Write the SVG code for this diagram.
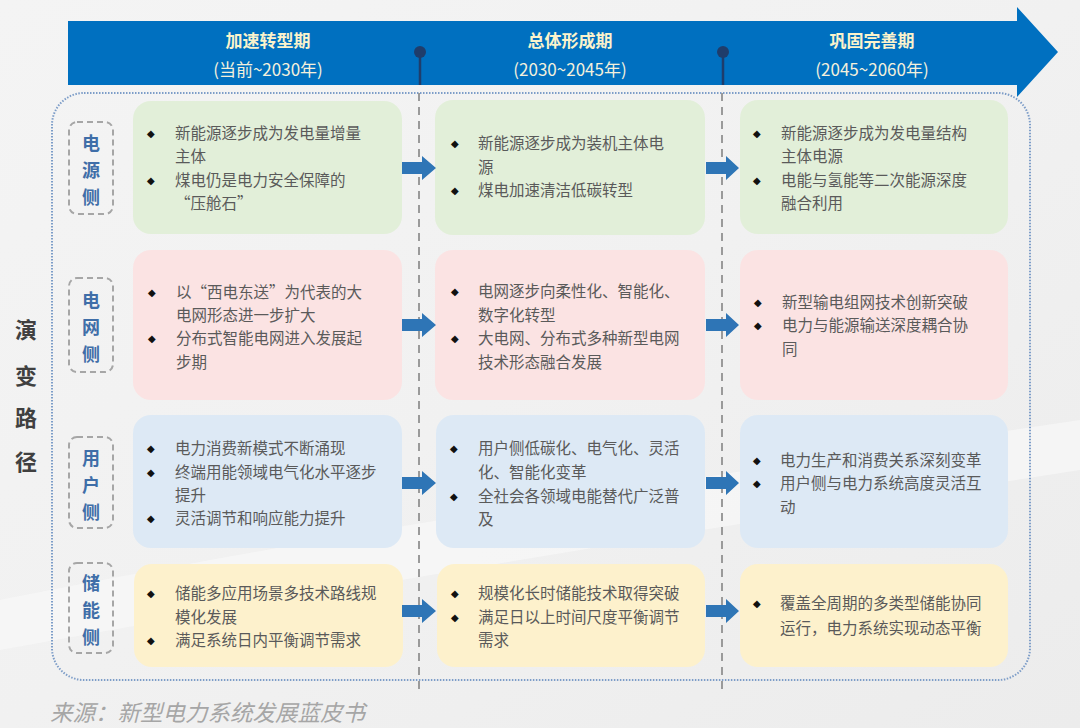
<svg xmlns="http://www.w3.org/2000/svg" width="1080" height="728" viewBox="0 0 1080 728">
<defs>
<linearGradient id="bg" x1="0" y1="0" x2="1" y2="1">
<stop offset="0" stop-color="#f4f4f4"/>
<stop offset="0.5" stop-color="#f1f1f1"/>
<stop offset="1" stop-color="#ececec"/>
</linearGradient>
<style>
.ttl{font-family:"Noto Sans CJK SC","Noto Sans",sans-serif;font-weight:bold;font-size:17px;fill:#fbf3cc;text-anchor:middle}
.sub{font-family:"Noto Sans CJK SC","Noto Sans",sans-serif;font-size:17px;fill:#f4f0dc;text-anchor:middle}
.side{font-family:"Noto Sans CJK SC",sans-serif;font-weight:bold;font-size:18px;fill:#3f6ea8;text-anchor:middle}
.sidebox{fill:none;stroke:#a6a6a6;stroke-width:2;stroke-dasharray:6 4}
.t{font-family:"Noto Sans CJK SC",sans-serif;font-size:15.5px;fill:#5a5a5a}
.b{font-family:"DejaVu Sans",sans-serif;font-size:10px;fill:#111}
.g{fill:#e2efd9}.p{fill:#fbe3e3}.bl{fill:#dde9f5}.y{fill:#fdf1cc}
.arr{fill:#2e75b6}
.vl{stroke:#9a9a9a;stroke-width:2;stroke-dasharray:8 6;fill:none}
.main{font-family:"Noto Sans CJK SC",serif;font-weight:bold;font-size:22px;fill:#404040;text-anchor:middle}
</style>
</defs>
<rect width="1080" height="728" fill="url(#bg)"/>
<path d="M0 600 Q400 520 1080 420 L1080 470 Q500 560 0 650 Z" fill="#f8f8f8" opacity="0.7"/>

<g id="timeline">
<path d="M68 21 H1017 V7 L1058 52 L1017 97 V85 H68 Z" fill="#0070c0"/>
<text class="ttl" x="268" y="47">加速转型期</text>
<text class="sub" x="268" y="76">(当前~2030年)</text>
<text class="ttl" x="570" y="47">总体形成期</text>
<text class="sub" x="570" y="76">(2030~2045年)</text>
<text class="ttl" x="872" y="47">巩固完善期</text>
<text class="sub" x="872" y="76">(2045~2060年)</text>
<line x1="420" y1="52" x2="420" y2="85" stroke="#1f3d6b" stroke-width="2.5"/>
<circle cx="420" cy="52" r="6" fill="#1f3d6b"/>
<line x1="723" y1="52" x2="723" y2="85" stroke="#1f3d6b" stroke-width="2.5"/>
<circle cx="723" cy="52" r="6" fill="#1f3d6b"/>
</g>

<g id="frame">
<rect x="52" y="93" width="978" height="587" rx="32" fill="none" stroke="#7d9dc8" stroke-width="2" stroke-dasharray="1.5 1.5"/>
<line class="vl" x1="419" y1="93" x2="419" y2="690"/>
<line class="vl" x1="722" y1="93" x2="722" y2="690"/>
</g>

<g id="main-label">
<text class="main" x="26" y="338">演</text>
<text class="main" x="26" y="384">变</text>
<text class="main" x="26" y="426">路</text>
<text class="main" x="26" y="470">径</text>
</g>

<g id="side-power">
<rect class="sidebox" x="69" y="122" width="44" height="92" rx="8"/>
<text class="side" x="91" y="150">电</text>
<text class="side" x="91" y="177">源</text>
<text class="side" x="91" y="204">侧</text>
</g>
<g id="side-grid">
<rect class="sidebox" x="69" y="278" width="44" height="94" rx="8"/>
<text class="side" x="91" y="307">电</text>
<text class="side" x="91" y="334">网</text>
<text class="side" x="91" y="361">侧</text>
</g>
<g id="side-user">
<rect class="sidebox" x="69" y="437" width="44" height="91" rx="8"/>
<text class="side" x="91" y="465">用</text>
<text class="side" x="91" y="492">户</text>
<text class="side" x="91" y="519">侧</text>
</g>
<g id="side-storage">
<rect class="sidebox" x="69" y="563" width="44" height="90" rx="8"/>
<text class="side" x="91" y="590">储</text>
<text class="side" x="91" y="617">能</text>
<text class="side" x="91" y="644">侧</text>
</g>

<g id="card-1-1">
<rect class="g" x="133" y="101" width="269" height="133" rx="18"/>
<text class="b" x="147" y="137">◆</text>
<text class="t" x="175" y="139">新能源逐步成为发电量增量</text>
<text class="t" x="175" y="162">主体</text>
<text class="b" x="147" y="184">◆</text>
<text class="t" x="175" y="186">煤电仍是电力安全保障的</text>
<text class="t" x="175" y="209">“压舱石”</text>
</g>
<g id="card-1-2">
<rect class="g" x="435" y="100" width="270" height="135" rx="18"/>
<text class="b" x="451" y="147">◆</text>
<text class="t" x="478" y="149">新能源逐步成为装机主体电</text>
<text class="t" x="478" y="173">源</text>
<text class="b" x="451" y="194">◆</text>
<text class="t" x="478" y="196">煤电加速清洁低碳转型</text>
</g>
<g id="card-1-3">
<rect class="g" x="740" y="100" width="268" height="134" rx="18"/>
<text class="b" x="753" y="137">◆</text>
<text class="t" x="781" y="139">新能源逐步成为发电量结构</text>
<text class="t" x="781" y="162">主体电源</text>
<text class="b" x="753" y="184">◆</text>
<text class="t" x="781" y="186">电能与氢能等二次能源深度</text>
<text class="t" x="781" y="209">融合利用</text>
</g>

<g id="card-2-1">
<rect class="p" x="133" y="250" width="269" height="150" rx="18"/>
<text class="b" x="148" y="296">◆</text>
<text class="t" x="176" y="298">以“西电东送”为代表的大</text>
<text class="t" x="176" y="321">电网形态进一步扩大</text>
<text class="b" x="148" y="342">◆</text>
<text class="t" x="176" y="344">分布式智能电网进入发展起</text>
<text class="t" x="176" y="368">步期</text>
</g>
<g id="card-2-2">
<rect class="p" x="435" y="250" width="270" height="150" rx="18"/>
<text class="b" x="451" y="295">◆</text>
<text class="t" x="478" y="297">电网逐步向柔性化、智能化、</text>
<text class="t" x="478" y="321">数字化转型</text>
<text class="b" x="451" y="342">◆</text>
<text class="t" x="478" y="344">大电网、分布式多种新型电网</text>
<text class="t" x="478" y="368">技术形态融合发展</text>
</g>
<g id="card-2-3">
<rect class="p" x="740" y="250" width="268" height="150" rx="18"/>
<text class="b" x="754" y="306">◆</text>
<text class="t" x="782" y="308">新型输电组网技术创新突破</text>
<text class="b" x="754" y="329">◆</text>
<text class="t" x="782" y="331">电力与能源输送深度耦合协</text>
<text class="t" x="782" y="355">同</text>
</g>

<g id="card-3-1">
<rect class="bl" x="133" y="415" width="269" height="133" rx="18"/>
<text class="b" x="147" y="452">◆</text>
<text class="t" x="175" y="454">电力消费新模式不断涌现</text>
<text class="b" x="147" y="476">◆</text>
<text class="t" x="175" y="478">终端用能领域电气化水平逐步</text>
<text class="t" x="175" y="501">提升</text>
<text class="b" x="147" y="522">◆</text>
<text class="t" x="175" y="524">灵活调节和响应能力提升</text>
</g>
<g id="card-3-2">
<rect class="bl" x="436" y="415" width="269" height="133" rx="18"/>
<text class="b" x="450" y="452">◆</text>
<text class="t" x="478" y="454">用户侧低碳化、电气化、灵活</text>
<text class="t" x="478" y="478">化、智能化变革</text>
<text class="b" x="450" y="500">◆</text>
<text class="t" x="478" y="502">全社会各领域电能替代广泛普</text>
<text class="t" x="478" y="525">及</text>
</g>
<g id="card-3-3">
<rect class="bl" x="740" y="415" width="268" height="133" rx="18"/>
<text class="b" x="753" y="464">◆</text>
<text class="t" x="780" y="466">电力生产和消费关系深刻变革</text>
<text class="b" x="753" y="487">◆</text>
<text class="t" x="780" y="489">用户侧与电力系统高度灵活互</text>
<text class="t" x="780" y="513">动</text>
</g>

<g id="card-4-1">
<rect class="y" x="134" y="564" width="269" height="103" rx="18"/>
<text class="b" x="147" y="597">◆</text>
<text class="t" x="175" y="599">储能多应用场景多技术路线规</text>
<text class="t" x="175" y="623">模化发展</text>
<text class="b" x="147" y="644">◆</text>
<text class="t" x="175" y="646">满足系统日内平衡调节需求</text>
</g>
<g id="card-4-2">
<rect class="y" x="437" y="564" width="268" height="103" rx="18"/>
<text class="b" x="451" y="597">◆</text>
<text class="t" x="478" y="599">规模化长时储能技术取得突破</text>
<text class="b" x="451" y="621">◆</text>
<text class="t" x="478" y="623">满足日以上时间尺度平衡调节</text>
<text class="t" x="478" y="646">需求</text>
</g>
<g id="card-4-3">
<rect class="y" x="740" y="564" width="268" height="103" rx="18"/>
<text class="b" x="753" y="607">◆</text>
<text class="t" x="780" y="609">覆盖全周期的多类型储能协同</text>
<text class="t" x="780" y="634">运行，电力系统实现动态平衡</text>
</g>

<g id="connectors">
<path class="arr" d="M402 162 H422 V156 L436 168 L422 180 V174 H402 Z"/>
<path class="arr" d="M706 162 H726 V156 L739 168 L726 180 V174 H706 Z"/>
<path class="arr" d="M402 319 H422 V313 L436 325 L422 337 V331 H402 Z"/>
<path class="arr" d="M706 319 H726 V313 L739 325 L726 337 V331 H706 Z"/>
<path class="arr" d="M402 477 H422 V471 L436 483 L422 495 V489 H402 Z"/>
<path class="arr" d="M706 477 H726 V471 L739 483 L726 495 V489 H706 Z"/>
<path class="arr" d="M402 605 H422 V599 L436 611 L422 623 V617 H402 Z"/>
<path class="arr" d="M706 605 H726 V599 L739 611 L726 623 V617 H706 Z"/>
</g>

<text x="50" y="721" font-family="'Noto Sans CJK SC',sans-serif" font-style="italic" font-size="22.5" fill="#a6a6a6">来源：新型电力系统发展蓝皮书</text>
</svg>
